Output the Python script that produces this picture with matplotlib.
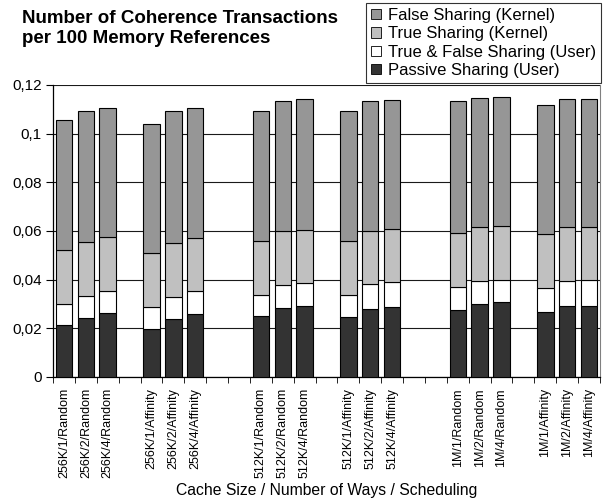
import matplotlib
matplotlib.use("Agg")
import matplotlib.pyplot as plt
import numpy as np
from matplotlib.patches import Patch
from matplotlib.ticker import FixedLocator, FuncFormatter

labels = ["256K/1/Random", "256K/2/Random", "256K/4/Random",
          "256K/1/Affinity", "256K/2/Affinity", "256K/4/Affinity",
          "512K/1/Random", "512K/2/Random", "512K/4/Random",
          "512K/1/Affinity", "512K/2/Affinity", "512K/4/Affinity",
          "1M/1/Random", "1M/2/Random", "1M/4/Random",
          "1M/1/Affinity", "1M/2/Affinity", "1M/4/Affinity"]

# slot positions (gaps between groups)
slots = [0, 1, 2, 4, 5, 6, 9, 10, 11, 13, 14, 15, 18, 19, 20, 22, 23, 24]

passive_user = [0.0214, 0.0241, 0.0264, 0.0199, 0.0237, 0.0260,
                0.0249, 0.0284, 0.0292, 0.0247, 0.0281, 0.0289,
                0.0277, 0.0299, 0.0307, 0.0268, 0.0290, 0.0293]
user_top = [0.0301, 0.0333, 0.0353, 0.0289, 0.0330, 0.0353,
            0.0338, 0.0378, 0.0385, 0.0338, 0.0381, 0.0390,
            0.0368, 0.0393, 0.0400, 0.0366, 0.0396, 0.0399]
true_kernel_top = [0.0523, 0.0555, 0.0575, 0.0510, 0.0552, 0.0573,
                   0.0559, 0.0600, 0.0605, 0.0559, 0.0600, 0.0608,
                   0.0593, 0.0615, 0.0621, 0.0586, 0.0618, 0.0616]
total = [0.1058, 0.1095, 0.1104, 0.1041, 0.1092, 0.1105,
         0.1092, 0.1136, 0.1142, 0.1093, 0.1133, 0.1137,
         0.1136, 0.1148, 0.1152, 0.1119, 0.1144, 0.1142]

tf_user = np.array(user_top) - np.array(passive_user)
true_kernel = np.array(true_kernel_top) - np.array(user_top)
false_kernel = np.array(total) - np.array(true_kernel_top)

series = [("Passive Sharing (User)", np.array(passive_user), "#333333"),
          ("True & False Sharing (User)", tf_user, "#ffffff"),
          ("True Sharing (Kernel)", true_kernel, "#c0c0c0"),
          ("False Sharing (Kernel)", false_kernel, "#969696")]

plt.rcParams['font.family'] = ['Liberation Sans', 'DejaVu Sans']

fig = plt.figure(figsize=(6.05, 5.0), dpi=100)
ax = fig.add_axes([53/605, 1 - 377/500, (600 - 53)/605, (377 - 85)/500])

x = np.array(slots, dtype=float)
bottom = np.zeros(len(x))
for name, vals, col in series:
    ax.bar(x, vals, width=0.75, bottom=bottom, color=col, edgecolor="black",
           linewidth=0.8, zorder=3)
    bottom += vals

ax.set_xlim(-0.5, 24.5)
ax.set_ylim(0, 0.12)
yt = [0, 0.02, 0.04, 0.06, 0.08, 0.10, 0.12]
ax.set_yticks(yt)
ax.yaxis.set_major_formatter(FuncFormatter(
    lambda v, p: "0" if v == 0 else ("%g" % round(v, 2)).replace(".", ",")))
ax.yaxis.grid(True, color="#1a1a1a", linewidth=0.8, zorder=0)
ax.tick_params(axis="y", labelsize=11, length=5, direction="out", pad=3)

ax.set_xticks(x)
ax.set_xticklabels(labels, rotation=90, fontsize=9)
ax.tick_params(axis="x", length=0, pad=8)
ax.xaxis.set_minor_locator(FixedLocator(np.arange(-0.5, 25.0, 1.0)))
ax.tick_params(axis="x", which="minor", length=4, direction="out")

ax.spines["top"].set_visible(False)
ax.spines["right"].set_color("#808080")
ax.spines["left"].set_linewidth(0.9)
ax.spines["bottom"].set_linewidth(0.9)

ax.set_xlabel("Cache Size / Number of Ways / Scheduling", fontsize=11.3, labelpad=3)

fig.text(22/605, 1 - 10/500, "Number of Coherence Transactions\nper 100 Memory References",
         fontsize=13.5, fontweight="bold", va="top", ha="left", linespacing=1.2)

handles = [Patch(facecolor=col, edgecolor="black", linewidth=0.6, label=name)
           for name, vals, col in reversed(series)]
leg = fig.legend(handles=handles, loc="upper right",
                 bbox_to_anchor=(601/605, 1 - 3/500), fontsize=12,
                 frameon=True, fancybox=False, edgecolor="black",
                 handlelength=0.6, handleheight=0.6, handletextpad=0.4,
                 labelspacing=0.2, borderpad=0.3, borderaxespad=0)
leg.get_frame().set_linewidth(0.8)

fig.savefig("out.png", dpi=100)
